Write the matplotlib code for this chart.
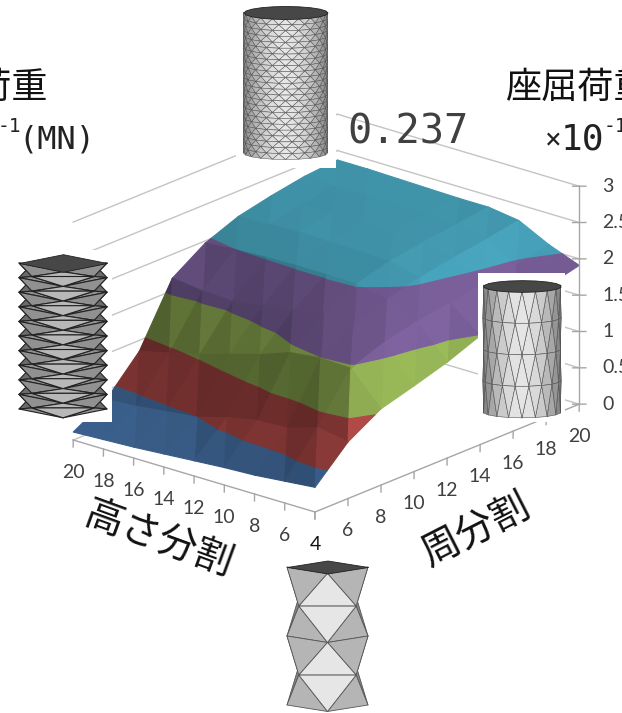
import numpy as np
import matplotlib
matplotlib.use("Agg")
import matplotlib.pyplot as plt
from matplotlib.collections import PolyCollection
from matplotlib.patches import Rectangle
from mpl_toolkits.mplot3d import proj3d
from mpl_toolkits.mplot3d.art3d import Poly3DCollection

# data
shu_bunkatsu = [4, 6, 8, 10, 12, 14, 16, 18, 20]
takasa_bunkatsu = [4, 6, 8, 10, 12, 14, 16, 18, 20]
z_ticks = [0, 0.5, 1, 1.5, 2, 2.5, 3]
z_tick_labels = ["0", "0.5", "1", "1.5", "2", "2.5", "3"]

z_h4 = [0.34, 0.78, 1.05, 1.18, 1.32, 1.50, 1.67, 1.80, 1.91]
z_h6 = [0.30, 0.85, 1.48, 1.65, 1.75, 1.82, 1.90, 1.96, 2.07]
z_h8 = [0.26, 0.72, 1.50, 1.75, 1.93, 2.05, 2.13, 2.20, 2.28]
z_h10 = [0.24, 0.70, 1.45, 1.78, 2.02, 2.15, 2.22, 2.28, 2.34]
z_h12 = [0.21, 0.62, 1.30, 1.72, 2.03, 2.16, 2.24, 2.30, 2.34]
z_h14 = [0.18, 0.50, 1.18, 1.66, 2.03, 2.17, 2.25, 2.31, 2.35]
z_h16 = [0.15, 0.45, 1.05, 1.60, 2.02, 2.18, 2.25, 2.32, 2.36]
z_h18 = [0.13, 0.40, 0.95, 1.62, 2.00, 2.16, 2.24, 2.32, 2.37]
z_h20 = [0.11, 0.37, 0.85, 1.67, 1.97, 2.15, 2.25, 2.33, 2.37]
buckling = np.array([z_h4, z_h6, z_h8, z_h10, z_h12, z_h14, z_h16, z_h18, z_h20])

band_edges = [0, 0.5, 1, 1.5, 2, 2.5]
band_colors = ["#4f81bd", "#c0504d", "#9bbb59", "#8064a2", "#4bacc6"]

GRID = "#c4c4c4"
AXIS = "#a6a6a6"
TEXT = "#404040"
JP = ["Noto Sans CJK JP", "DejaVu Sans"]


def clip_poly(poly, level, keep_above):
    out = []
    for i in range(len(poly)):
        a = poly[i]
        b = poly[(i + 1) % len(poly)]
        a_in = a[2] >= level if keep_above else a[2] <= level
        b_in = b[2] >= level if keep_above else b[2] <= level
        if a_in:
            out.append(a)
        if a_in != b_in:
            t = (level - a[2]) / (b[2] - a[2])
            out.append(a + t * (b - a))
    return out


def facet_shade(tri):
    # surface lit from the right hand side of the viewer
    p = tri * np.array([25.4, 19.9, 77.5])
    n = np.cross(p[1] - p[0], p[2] - p[0])
    n = n / np.linalg.norm(n)
    if n[2] < 0:
        n = -n
    light = np.array([0.5, -0.65, 0.55])
    light = light / np.linalg.norm(light)
    return np.clip(0.58 + 0.52 * np.dot(n, light), 0.5, 1.1)


def build_facets():
    polys = []
    colors = []
    c = shu_bunkatsu
    h = takasa_bunkatsu
    for i in range(len(h) - 1):
        for j in range(len(c) - 1):
            p00 = np.array([c[j], h[i], buckling[i, j]])
            p01 = np.array([c[j + 1], h[i], buckling[i, j + 1]])
            p10 = np.array([c[j], h[i + 1], buckling[i + 1, j]])
            p11 = np.array([c[j + 1], h[i + 1], buckling[i + 1, j + 1]])
            for tri in ([p00, p01, p11], [p00, p11, p10]):
                s = facet_shade(np.array(tri))
                for b in range(len(band_colors)):
                    part = clip_poly(tri, band_edges[b], True)
                    if len(part) > 2:
                        part = clip_poly(part, band_edges[b + 1], False)
                    if len(part) > 2:
                        polys.append(part)
                        rgb = np.array(matplotlib.colors.to_rgb(band_colors[b]))
                        colors.append(tuple(np.clip(rgb * s, 0, 1)))
    return polys, colors


def project(ax, x, y, z):
    px, py, _ = proj3d.proj_transform(x, y, z, ax.get_proj())
    return ax.transData.transform((px, py))


def fit_axes(ax):
    # move the square 3d axes so the floor corners land where they are in the chart
    w = 1.2
    left = -0.1
    bottom = -0.1
    fig_w, fig_h = 622, 713
    for _ in range(3):
        ax.set_position([left, bottom, w * fig_h / fig_w, w])
        ax.apply_aspect()
        a = project(ax, 20, 4, 0)
        b = project(ax, 4, 20, 0)
        s = 506 / (a[0] - b[0])
        w = w * s
        ax.set_position([left, bottom, w * fig_h / fig_w, w])
        ax.apply_aspect()
        a = project(ax, 4, 4, 0)
        left += (315 - a[0]) / fig_w
        bottom += ((713 - 512) - a[1]) / fig_h
    ax.set_position([left, bottom, w * fig_h / fig_w, w])
    ax.apply_aspect()


def draw_prism(ov, cx, top, bottom, r, squash, rings, sides, edge, lw, base, amp):
    ys = np.linspace(top, bottom, rings + 1)
    faces = []

    def vert(i, k):
        th = 2 * np.pi * k / sides + (i % 2) * np.pi / sides
        return th, (cx + r * np.sin(th), ys[i] + r * squash * np.cos(th))

    for i in range(rings):
        for k in range(sides):
            if i % 2 == 0:
                tris = [[(i, k), (i, k + 1), (i + 1, k)], [(i + 1, k - 1), (i + 1, k), (i, k)]]
            else:
                tris = [[(i, k), (i, k + 1), (i + 1, k + 1)], [(i + 1, k), (i + 1, k + 1), (i, k)]]
            for tri in tris:
                pts = [vert(a, b) for a, b in tri]
                mid = np.arctan2(sum(np.sin(p[0]) for p in pts), sum(np.cos(p[0]) for p in pts))
                if np.cos(mid) > -0.05:
                    faces.append((np.cos(mid), [p[1] for p in pts]))
    faces.sort(key=lambda f: f[0])
    polys = [f[1] for f in faces]
    shades = [str(np.clip(base + amp * max(f[0], 0) ** 2, 0, 1)) for f in faces]
    ov.add_collection(PolyCollection(polys, facecolors=shades, edgecolors=edge, linewidths=lw))
    angles = 2 * np.pi * np.arange(sides) / sides
    cap = [(cx + r * np.sin(t), top + r * squash * np.cos(t)) for t in angles]
    ov.add_collection(PolyCollection([cap], facecolors="#474747", edgecolors="#222222", linewidths=0.6))


fig = plt.figure(figsize=(6.22, 7.13), dpi=100)
ax = fig.add_subplot(projection="3d", proj_type="ortho", computed_zorder=False)
ax.set_xlim(4, 20, view_margin=0)
ax.set_ylim(4, 20, view_margin=0)
ax.set_zlim(0, 3, view_margin=0)
ax.view_init(elev=20.4, azim=-139.5)
ax.set_box_aspect((407, 318, 232.6))
ax.set_axis_off()
ax.patch.set_alpha(0)
fit_axes(ax)

# walls
for z in z_ticks:
    ax.plot([20, 20], [4, 20], [z, z], color=GRID, lw=1, zorder=1)
    ax.plot([4, 20], [20, 20], [z, z], color=GRID, lw=1, zorder=1)

polys, colors = build_facets()
surf = Poly3DCollection(polys, facecolors=colors, edgecolors=colors, linewidths=0.8, zorder=2)
ax.add_collection3d(surf)

# floor axes and the value axis
ax.plot([4, 20], [4, 4], [0, 0], color=AXIS, lw=1, zorder=3)
ax.plot([4, 4], [4, 20], [0, 0], color=AXIS, lw=1, zorder=3)
ax.plot([20, 20], [4, 4], [0, 3], color=AXIS, lw=1, zorder=3)
for c in shu_bunkatsu:
    ax.plot([c, c - 0.6], [4, 4 - 0.65], [0, 0], color=AXIS, lw=1, zorder=3)
for h in takasa_bunkatsu:
    ax.plot([4, 4 - 0.6], [h, h - 0.65], [0, 0], color=AXIS, lw=1, zorder=3)
for z in z_ticks:
    ax.plot([20 - 0.17, 20 + 0.17], [4 + 0.25, 4 - 0.25], [z, z], color=AXIS, lw=1, zorder=3)

# overlay in pixel coordinates for pictures and titles
ov = fig.add_axes([0, 0, 1, 1], zorder=5)
ov.set_xlim(0, 622)
ov.set_ylim(713, 0)
ov.axis("off")
ov.patch.set_alpha(0)


def label_3d(x, y, z, s, ha, color=TEXT):
    # tick labels follow the projected position of their tick
    px = project(ax, x, y, z)
    ov.text(px[0], 713 - px[1], s, ha=ha, va="center", color=color, fontsize=14, family="Lato")


for c in shu_bunkatsu:
    # the 4 is shared by both floor axes and prints darker
    label_3d(c - 2.75, 4 - 3.0, 0, str(c), "center", "#111111" if c == 4 else TEXT)
for h in takasa_bunkatsu[1:]:
    label_3d(4 - 2.75, h - 3.0, 0, str(h), "center")
for z, lab in zip(z_ticks, z_tick_labels):
    label_3d(20.58, 4 - 0.87, z, lab, "left")

for x, y, w, h in [(236, 0, 100, 168), (0, 250, 112, 172), (478, 273, 87, 149)]:
    ov.add_patch(Rectangle((x, y), w, h, fc="white", ec="none"))

draw_prism(ov, 285.5, 12.5, 153, 42, 0.155, 24, 20, "#505050", 0.35, 0.52, 0.38)
draw_prism(ov, 63, 263, 409, 44, 0.2, 20, 4, "#222222", 0.8, 0.42, 0.3)
draw_prism(ov, 522, 286, 412, 39, 0.15, 4, 18, "#505050", 0.4, 0.48, 0.42)
draw_prism(ov, 327.5, 567, 705, 40.5, 0.16, 4, 4, "#555555", 0.6, 0.52, 0.38)

ov.text(48, 88, "座屈荷重", ha="right", va="center", fontsize=26, family=JP, color="#111111")
ov.text(505, 88, "座屈荷重", ha="left", va="center", fontsize=26, family=JP, color="#111111")
ov.text(95, 140, "(MN)", ha="right", va="center", fontsize=23, family="DejaVu Sans Mono", color="#222222")
ov.text(21, 127, "-1", ha="right", va="center", fontsize=14, family="DejaVu Sans Mono", color="#222222")
ov.text(553, 140, "×", ha="center", va="center", fontsize=20, family="DejaVu Sans Mono", color="#222222")
ov.text(561, 140, "10", ha="left", va="center", fontsize=26, family="DejaVu Sans Mono", color="#222222")
ov.text(604, 127, "-1", ha="left", va="center", fontsize=14, family="DejaVu Sans Mono", color="#222222")
ov.text(347, 132, "0.237", ha="left", va="center", fontsize=29, family="DejaVu Sans Mono", color="#404040")

ov.text(158, 540, "高さ分割", ha="center", va="center", rotation=-20, fontsize=28, family=JP, color="#111111")
ov.text(476, 530, "周分割", ha="center", va="center", rotation=27, fontsize=28, family=JP, color="#111111")

fig.savefig("out.png", dpi=100)
